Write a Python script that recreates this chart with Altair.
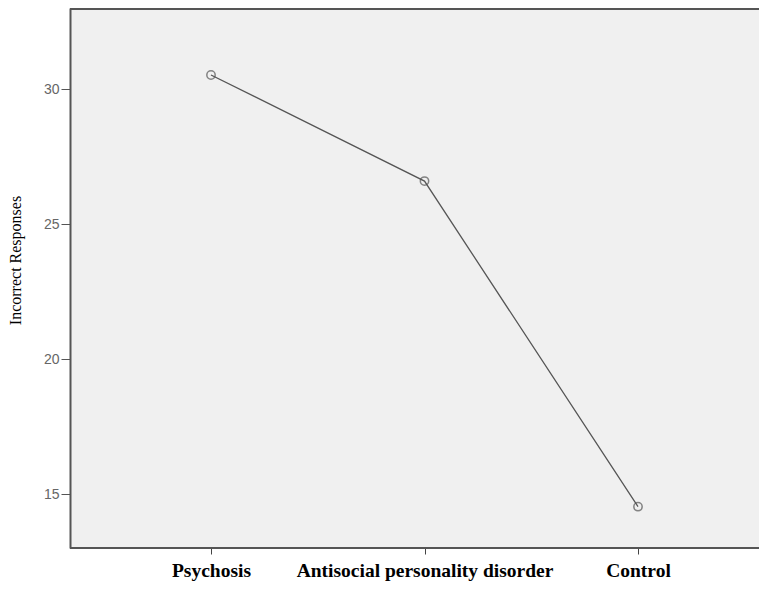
import altair as alt
import pandas as pd

groups = ["Psychosis", "Antisocial personality disorder", "Control"]
incorrect = [30.52, 26.59, 14.53]

df = pd.DataFrame({"group": groups, "value": incorrect})

x = alt.X("group:N", sort=groups,
          scale=alt.Scale(type="point", padding=0, range=[141, 568]),
          axis=alt.Axis(title=None, labelAngle=0, labelFont="Liberation Serif",
                        labelFontWeight="bold", labelFontSize=19.5, labelColor="black",
                        labelLimit=0, labelPadding=7, tickSize=6, tickColor="#444",
                        domain=False, grid=False))
y = alt.Y("value:Q", scale=alt.Scale(domain=[13, 33], nice=False, zero=False),
          axis=alt.Axis(title="Incorrect Responses", values=[15, 20, 25, 30],
                        titleFont="Liberation Serif", titleFontSize=16,
                        titleFontWeight="normal", titleColor="black", titlePadding=20,
                        titleY=252,
                        labelFont="Liberation Sans", labelFontSize=14, labelColor="#666",
                        labelPadding=2, tickSize=9, tickColor="#555",
                        domain=True, domainColor="#555", domainWidth=2, grid=False))

base = alt.Chart(df)
line = base.mark_line(color="#555", strokeWidth=1.3).encode(x=x, y=y)
pts = base.mark_point(shape="circle", size=70, filled=False, color="#555",
                      strokeWidth=1.5).encode(x=x, y=y)
frame_df = pd.DataFrame({"edge": ["top", "bottom"], "ypix": [1, 540]})
frame = alt.Chart(frame_df).mark_rule(color="#555", strokeWidth=2).encode(
    x=alt.value(0), x2=alt.value(700), y=alt.Y("ypix:Q", scale=None))

chart = (frame + line + pts).properties(
    width=689, height=540,
    background="white",
    autosize=alt.AutoSizeParams(type="none"),
    padding={"left": 62, "top": 0, "right": 0, "bottom": 34},
).configure_view(fill="#f0f0f0", stroke=None)

chart.save("out.html", embed_options={"renderer": "svg", "actions": False})
